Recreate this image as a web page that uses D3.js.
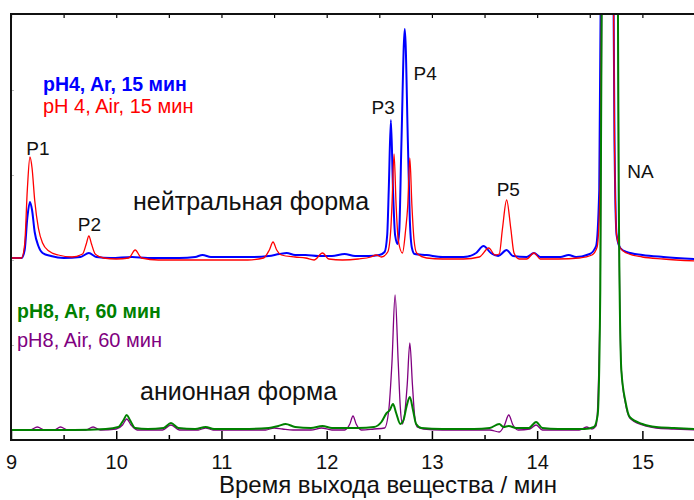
<!DOCTYPE html>
<meta charset="utf-8">
<style>
  body { margin: 0; background: #fff; }
  text { font-family: "Liberation Sans", Arial, sans-serif; }
</style>
<body>
<div id="chart"></div>
<script src="https://d3js.org/d3.v7.min.js"></script>
<script>
// retention time (min), signal (arb. units)
const ph4Ar = [[9.00,182],[9.10,182],[9.13,190],[9.155,222],[9.18,238],[9.20,230],[9.225,208],[9.26,194],[9.30,187],[9.38,184],[9.50,182],[9.66,183],[9.74,187],[9.81,183],[9.95,182],[10.15,183],[10.30,182],[10.60,182],[10.75,183],[10.82,185],[10.90,183],[11.10,183],[11.30,183],[11.45,184],[11.55,186],[11.62,187],[11.70,185],[11.80,185],[11.92,184],[12.05,184],[12.17,186],[12.27,184],[12.40,184],[12.50,185],[12.55,188],[12.575,205],[12.59,251],[12.61,320],[12.63,251],[12.65,205],[12.675,196],[12.69,210],[12.71,296],[12.742,411],[12.772,296],[12.79,220],[12.81,192],[12.835,186],[12.95,185],[13.10,183],[13.30,183],[13.42,187],[13.49,194],[13.56,187],[13.63,184],[13.71,190],[13.77,184],[13.90,183],[13.97,187],[14.03,183],[14.22,183],[14.30,185],[14.37,183],[14.50,186],[14.56,194],[14.59,250],[14.62,700],[14.665,1300],[14.71,700],[14.735,300],[14.755,205],[14.79,192],[14.85,188],[15.00,185],[15.20,183],[15.50,181]];
const ph4Air = [[9.00,182],[9.10,182],[9.13,196],[9.155,250],[9.18,283],[9.20,272],[9.225,240],[9.26,212],[9.30,197],[9.36,189],[9.45,185],[9.58,183],[9.68,186],[9.715,196],[9.74,204],[9.765,196],[9.80,186],[9.88,182],[10.00,181],[10.12,182],[10.18,190],[10.24,182],[10.40,180],[10.70,180],[11.00,180],[11.25,180],[11.40,182],[11.455,190],[11.49,198],[11.525,190],[11.57,185],[11.70,183],[11.80,182],[11.88,180],[11.96,187],[12.02,181],[12.15,180],[12.30,181],[12.42,183],[12.47,185],[12.52,183],[12.58,188],[12.61,212],[12.62,234],[12.64,286],[12.66,234],[12.68,200],[12.72,187],[12.75,210],[12.77,234],[12.79,282],[12.81,234],[12.83,200],[12.855,187],[12.95,182],[13.10,181],[13.30,181],[13.45,183],[13.54,192],[13.60,185],[13.64,186],[13.67,211],[13.71,240],[13.75,211],[13.78,187],[13.83,181],[13.90,181],[13.97,187],[14.03,181],[14.20,181],[14.40,182],[14.52,185],[14.57,193],[14.60,260],[14.625,700],[14.665,1300],[14.71,700],[14.735,300],[14.755,205],[14.79,192],[14.85,187],[15.00,183],[15.20,181],[15.50,179]];
const ph8Ar = [[9.00,10],[9.30,10],[9.60,10],[9.90,11],[10.02,13],[10.07,20],[10.10,25],[10.13,20],[10.18,12],[10.30,11],[10.45,12],[10.52,17],[10.59,12],[10.75,11],[10.85,13],[10.93,11],[11.20,11],[11.45,12],[11.54,14],[11.61,16],[11.70,13],[11.85,12],[11.96,14],[12.05,12],[12.30,12],[12.45,13],[12.52,18],[12.57,27],[12.60,30],[12.63,36],[12.66,27],[12.70,16],[12.73,20],[12.76,34],[12.79,43],[12.82,30],[12.85,16],[12.90,12],[13.10,11],[13.40,11],[13.55,12],[13.64,16],[13.68,13],[13.73,14],[13.80,12],[13.92,12],[13.99,18],[14.05,12],[14.20,11],[14.45,11],[14.54,13],[14.575,25],[14.60,150],[14.64,1000],[14.69,3200],[14.745,1000],[14.775,250],[14.80,70],[14.84,38],[14.88,23],[15.00,16],[15.13,13],[15.30,12],[15.50,11]];
const ph8Air = [[9.00,10],[9.18,10],[9.25,13],[9.32,10],[9.41,10],[9.47,13],[9.54,10],[9.71,10],[9.78,13],[9.85,10],[10.00,11],[10.06,15],[10.10,21],[10.14,15],[10.20,10],[10.44,10],[10.52,15],[10.60,10],[10.78,10],[10.85,12],[10.92,10],[11.20,10],[11.42,10],[11.50,12],[11.58,11],[11.68,10],[11.85,10],[11.95,12],[12.05,10],[12.17,10],[12.22,16],[12.25,24],[12.28,16],[12.33,10],[12.45,11],[12.55,12],[12.59,30],[12.62,77],[12.65,145],[12.68,77],[12.70,32],[12.72,16],[12.745,30],[12.765,55],[12.79,97],[12.815,55],[12.835,25],[12.86,13],[12.92,11],[13.10,10],[13.40,10],[13.55,10],[13.64,8],[13.69,15],[13.73,25],[13.77,15],[13.82,10],[13.93,11],[13.99,15],[14.05,10],[14.40,10],[14.47,13],[14.52,11],[14.56,14],[14.60,150],[14.64,1000],[14.69,3200],[14.745,1000],[14.775,250],[14.80,70],[14.84,36],[14.88,22],[15.00,15],[15.13,12],[15.30,11],[15.50,10]];

const xTicks = [9, 10, 11, 12, 13, 14, 15];
const xMinor = [9.5, 10.5, 11.5, 12.5, 13.5, 14.5, 15.5];
const yTicks = [95, 180, 265, 350];

const peakLabels = [
  {text: "P1", t: 9.25, v: 285},
  {text: "P2", t: 9.74, v: 209},
  {text: "P3", t: 12.53, v: 326},
  {text: "P4", t: 12.93, v: 360},
  {text: "P5", t: 13.72, v: 244},
  {text: "NA", t: 14.96, v: 262}
];

const width = 694, height = 500;
const mLeft = 11, mRight = 695, mTop = 14, mBottom = 440;

const x = d3.scaleLinear().domain([9, 15.5]).range([mLeft, mRight]);
const y = d3.scaleLinear().domain([0, 426]).range([mBottom, mTop]);

const svg = d3.select("#chart").append("svg")
    .attr("width", width)
    .attr("height", height);

svg.append("clipPath").attr("id", "plotClip")
  .append("rect")
    .attr("x", mLeft).attr("y", mTop)
    .attr("width", mRight - mLeft).attr("height", mBottom - mTop);

const line = d3.line()
    .x(d => x(d[0]))
    .y(d => y(d[1]))
    .curve(d3.curveMonotoneX);

const traces = [
  {data: ph4Ar, color: "#0000ff", w: 2},
  {data: ph4Air, color: "#ff0000", w: 1.3},
  {data: ph8Air, color: "#800080", w: 1.3},
  {data: ph8Ar, color: "#008000", w: 2}
];

const plot = svg.append("g").attr("clip-path", "url(#plotClip)");
plot.selectAll("path")
  .data(traces)
  .enter().append("path")
    .attr("fill", "none")
    .attr("stroke", d => d.color)
    .attr("stroke-width", d => d.w)
    .attr("stroke-linejoin", "round")
    .attr("d", d => line(d.data));

// axes
svg.append("g")
    .attr("transform", `translate(0,${mBottom})`)
    .call(d3.axisBottom(x).tickValues(xTicks).tickSize(-9).tickPadding(15).tickFormat(d3.format("d")))
    .call(g => g.select(".domain").remove())
    .call(g => g.selectAll("line").attr("stroke", "#000").attr("stroke-width", 1.5))
    .call(g => g.selectAll("text").attr("font-size", 20).attr("fill", "#111"));

svg.append("g")
    .attr("transform", `translate(0,${mBottom})`)
    .call(d3.axisBottom(x).tickValues(xMinor).tickSize(-5).tickFormat(""))
    .call(g => g.select(".domain").remove())
    .call(g => g.selectAll("line").attr("stroke", "#000").attr("stroke-width", 1.5));

svg.append("g")
    .attr("transform", `translate(0,${mTop})`)
    .call(d3.axisTop(x).tickValues(xTicks.concat(xMinor)).tickSize(-4).tickFormat(""))
    .call(g => g.select(".domain").remove())
    .call(g => g.selectAll("line").attr("stroke", "#000").attr("stroke-width", 1.2));

svg.append("g")
    .attr("transform", `translate(${mLeft},0)`)
    .call(d3.axisLeft(y).tickValues(yTicks).tickSize(-3).tickFormat(""))
    .call(g => g.select(".domain").remove())
    .call(g => g.selectAll("line").attr("stroke", "#bbb").attr("stroke-width", 1));

// frame
svg.append("path")
    .attr("fill", "none")
    .attr("stroke", "#111")
    .attr("stroke-width", 2)
    .attr("d", `M${mRight},${mTop}H${mLeft}V${mBottom}H${mRight}`);

svg.append("text")
    .attr("x", 388).attr("y", 493)
    .attr("text-anchor", "middle")
    .attr("font-size", 24)
    .attr("fill", "#111")
    .text("Время выхода вещества / мин");

// legends and annotations
const notes = [
  {text: "pH4, Ar, 15 мин", x: 43, y: 91, color: "#0000ff", bold: true, size: 19.5},
  {text: "pH 4, Air, 15 мин", x: 43, y: 113, color: "#ff0000", bold: false, size: 20},
  {text: "pH8, Ar, 60 мин", x: 17, y: 318, color: "#008000", bold: true, size: 19.5},
  {text: "pH8, Air, 60 мин", x: 17, y: 347, color: "#800080", bold: false, size: 20},
  {text: "нейтральная форма", x: 133, y: 210, color: "#111", bold: false, size: 25},
  {text: "анионная форма", x: 140, y: 400, color: "#111", bold: false, size: 25}
];
svg.selectAll("text.note")
  .data(notes)
  .enter().append("text")
    .attr("class", "note")
    .attr("x", d => d.x).attr("y", d => d.y)
    .attr("fill", d => d.color)
    .attr("font-size", d => d.size)
    .attr("font-weight", d => d.bold ? "bold" : "normal")
    .text(d => d.text);

svg.selectAll("text.peak")
  .data(peakLabels)
  .enter().append("text")
    .attr("class", "peak")
    .attr("x", d => x(d.t) - 11).attr("y", d => y(d.v))
    .attr("font-size", 19)
    .attr("fill", "#111")
    .text(d => d.text);
</script>
</body>
